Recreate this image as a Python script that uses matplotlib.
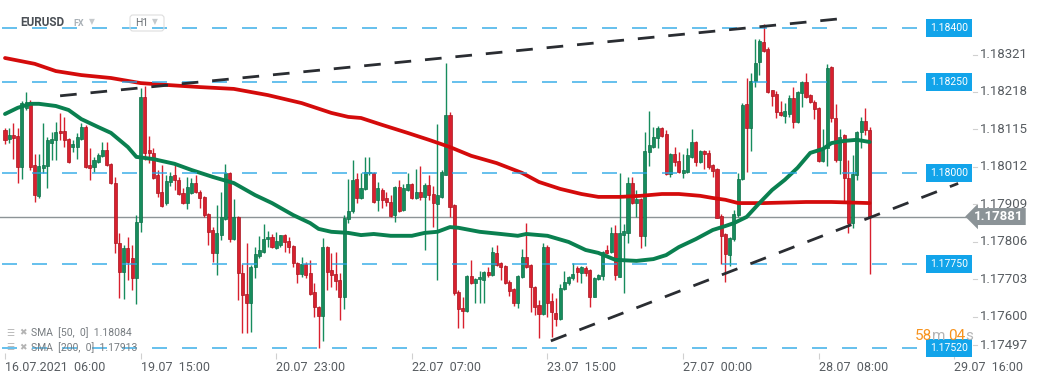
import matplotlib
matplotlib.use("Agg")
import matplotlib.pyplot as plt
import matplotlib.transforms as mtransforms
from matplotlib.lines import Line2D
from matplotlib.patches import FancyBboxPatch
import numpy as np

plt.rcParams['font.family'] = ['Roboto', 'DejaVu Sans']
plt.rcParams['lines.scale_dashes'] = False

# ---- EURUSD H1 candles (16.07 06:00 -> 28.07) ----
opens = [
    1.18119, 1.18094, 1.18105, 1.18103, 1.18017, 1.18180, 1.18196, 1.18023, 1.17938, 1.18015,
    1.18020, 1.18083, 1.18092, 1.18116, 1.18116, 1.18094, 1.18072, 1.18072, 1.18094, 1.18127,
    1.18023, 1.18017, 1.18031, 1.18048, 1.18064, 1.18026, 1.17973, 1.17808, 1.17728, 1.17794,
    1.17767, 1.17712, 1.17866, 1.18210, 1.18064, 1.18056, 1.17995, 1.17948, 1.17918, 1.17976,
    1.17995, 1.17982, 1.17946, 1.17918, 1.17946, 1.17973, 1.17948, 1.17935, 1.17888, 1.17844,
    1.17781, 1.17830, 1.17874, 1.18001, 1.17819, 1.17880, 1.17726, 1.17668, 1.17643, 1.17742,
    1.17772, 1.17784, 1.17819, 1.17825, 1.17794, 1.17803, 1.17830, 1.17814, 1.17800, 1.17753,
    1.17723, 1.17750, 1.17726, 1.17674, 1.17632, 1.17608, 1.17797, 1.17734, 1.17723, 1.17706,
    1.17660, 1.17874, 1.17896, 1.17984, 1.17932, 1.17957, 1.18001, 1.18001, 1.17927, 1.17954,
    1.17932, 1.17921, 1.17885, 1.17962, 1.17899, 1.17954, 1.17971, 1.17932, 1.17948, 1.17935,
    1.17968, 1.17943, 1.17915, 1.17935, 1.17995, 1.18160, 1.17913, 1.17674, 1.17630, 1.17621,
    1.17718, 1.17698, 1.17709, 1.17706, 1.17728, 1.17720, 1.17781, 1.17753, 1.17745, 1.17701,
    1.17682, 1.17643, 1.17715, 1.17770, 1.17748, 1.17687, 1.17638, 1.17613, 1.17797, 1.17649,
    1.17616, 1.17599, 1.17682, 1.17698, 1.17712, 1.17740, 1.17726, 1.17740, 1.17734, 1.17660,
    1.17709, 1.17718, 1.17789, 1.17784, 1.17836, 1.17715, 1.17830, 1.17836, 1.17973, 1.17918,
    1.17929, 1.17828, 1.18058, 1.18072, 1.18097, 1.18124, 1.18108, 1.17998, 1.18053, 1.18034,
    1.18001, 1.18004, 1.18045, 1.18086, 1.18031, 1.18061, 1.18056, 1.18023, 1.18012, 1.17882,
    1.17833, 1.17775, 1.17819, 1.17885, 1.17984, 1.18191, 1.18124, 1.18254, 1.18306, 1.18361,
    1.18342, 1.18229, 1.18218, 1.18168, 1.18157, 1.18163, 1.18207, 1.18141, 1.18221, 1.18251,
    1.18215, 1.18196, 1.18180, 1.18034, 1.18070, 1.18292, 1.18152, 1.18037, 1.18105, 1.17987,
    1.17863, 1.17995, 1.18114, 1.18144, 1.18119,
]
highs = [
    1.18124, 1.18124, 1.18138, 1.18124, 1.18199, 1.18224, 1.18202, 1.18053, 1.18053, 1.18138,
    1.18100, 1.18114, 1.18141, 1.18166, 1.18155, 1.18097, 1.18092, 1.18111, 1.18138, 1.18133,
    1.18070, 1.18045, 1.18056, 1.18086, 1.18086, 1.18028, 1.17990, 1.17836, 1.17803, 1.17825,
    1.17803, 1.17885, 1.18234, 1.18240, 1.18103, 1.18070, 1.18009, 1.18023, 1.17995, 1.18004,
    1.18023, 1.17990, 1.17960, 1.17990, 1.17987, 1.17995, 1.17954, 1.17938, 1.17891, 1.17852,
    1.17913, 1.17948, 1.18026, 1.18004, 1.17929, 1.17882, 1.17750, 1.17808, 1.17748, 1.17797,
    1.17828, 1.17860, 1.17841, 1.17833, 1.17838, 1.17830, 1.17833, 1.17825, 1.17803, 1.17756,
    1.17770, 1.17756, 1.17762, 1.17698, 1.17635, 1.17822, 1.17800, 1.17781, 1.17784, 1.17726,
    1.17885, 1.17984, 1.18037, 1.18001, 1.18001, 1.18045, 1.18045, 1.18004, 1.17976, 1.17960,
    1.17948, 1.17940, 1.17965, 1.17982, 1.17971, 1.18001, 1.17973, 1.18012, 1.18020, 1.17973,
    1.17995, 1.17965, 1.18135, 1.18009, 1.18303, 1.18168, 1.17915, 1.17679, 1.17660, 1.17720,
    1.17762, 1.17712, 1.17731, 1.17731, 1.17742, 1.17797, 1.17803, 1.17756, 1.17748, 1.17706,
    1.17684, 1.17720, 1.17792, 1.17863, 1.17750, 1.17690, 1.17652, 1.17808, 1.17803, 1.17671,
    1.17657, 1.17696, 1.17731, 1.17718, 1.17753, 1.17745, 1.17745, 1.17745, 1.17737, 1.17715,
    1.17723, 1.17786, 1.17803, 1.17852, 1.17858, 1.18001, 1.17860, 1.17990, 1.17990, 1.17954,
    1.17932, 1.18114, 1.18171, 1.18127, 1.18130, 1.18126, 1.18119, 1.18056, 1.18072, 1.18058,
    1.18053, 1.18070, 1.18122, 1.18089, 1.18064, 1.18064, 1.18064, 1.18026, 1.18015, 1.17888,
    1.17836, 1.17825, 1.17899, 1.18001, 1.18193, 1.18262, 1.18276, 1.18369, 1.18369, 1.18410,
    1.18347, 1.18230, 1.18226, 1.18199, 1.18193, 1.18215, 1.18237, 1.18226, 1.18254, 1.18276,
    1.18218, 1.18202, 1.18182, 1.18122, 1.18300, 1.18295, 1.18190, 1.18122, 1.18108, 1.18037,
    1.18050, 1.18115, 1.18155, 1.18180, 1.18127,
]
lows = [
    1.18080, 1.18083, 1.18039, 1.17973, 1.17984, 1.18174, 1.18009, 1.17921, 1.17932, 1.18001,
    1.17960, 1.18037, 1.18037, 1.18092, 1.18072, 1.18028, 1.18058, 1.18039, 1.18092, 1.18015,
    1.17982, 1.18004, 1.18028, 1.18045, 1.18020, 1.17971, 1.17781, 1.17657, 1.17654, 1.17706,
    1.17679, 1.17640, 1.17838, 1.18037, 1.18028, 1.17984, 1.17935, 1.17907, 1.17913, 1.17965,
    1.17954, 1.17940, 1.17915, 1.17902, 1.17944, 1.17946, 1.17904, 1.17880, 1.17803, 1.17756,
    1.17720, 1.17816, 1.17871, 1.17811, 1.17816, 1.17652, 1.17561, 1.17561, 1.17564, 1.17712,
    1.17767, 1.17781, 1.17797, 1.17794, 1.17792, 1.17797, 1.17784, 1.17781, 1.17742, 1.17698,
    1.17715, 1.17712, 1.17665, 1.17605, 1.17520, 1.17539, 1.17679, 1.17687, 1.17679, 1.17596,
    1.17627, 1.17863, 1.17891, 1.17918, 1.17929, 1.17954, 1.17995, 1.17918, 1.17896, 1.17904,
    1.17910, 1.17880, 1.17866, 1.17893, 1.17896, 1.17951, 1.17929, 1.17929, 1.17927, 1.17789,
    1.17927, 1.17852, 1.17706, 1.17932, 1.17995, 1.17880, 1.17665, 1.17574, 1.17574, 1.17618,
    1.17696, 1.17643, 1.17643, 1.17643, 1.17715, 1.17718, 1.17745, 1.17706, 1.17696, 1.17662,
    1.17635, 1.17630, 1.17712, 1.17740, 1.17618, 1.17610, 1.17547, 1.17610, 1.17605, 1.17550,
    1.17580, 1.17596, 1.17679, 1.17693, 1.17706, 1.17701, 1.17698, 1.17718, 1.17632, 1.17659,
    1.17706, 1.17706, 1.17778, 1.17781, 1.17706, 1.17715, 1.17671, 1.17808, 1.17915, 1.17880,
    1.17794, 1.17800, 1.18020, 1.18070, 1.18070, 1.18101, 1.17995, 1.17990, 1.18020, 1.18002,
    1.17987, 1.18002, 1.18042, 1.18020, 1.18028, 1.18012, 1.18012, 1.17990, 1.17876, 1.17750,
    1.17701, 1.17745, 1.17814, 1.17880, 1.17982, 1.18004, 1.18061, 1.18237, 1.18270, 1.18334,
    1.18222, 1.18185, 1.18152, 1.18157, 1.18138, 1.18155, 1.18124, 1.18138, 1.18182, 1.18207,
    1.18193, 1.18149, 1.18031, 1.18031, 1.18020, 1.18141, 1.18031, 1.17998, 1.17918, 1.17836,
    1.17850, 1.17982, 1.18070, 1.18105, 1.17723,
]
closes = [
    1.18092, 1.18105, 1.18097, 1.18017, 1.18193, 1.18196, 1.18017, 1.17940, 1.18020, 1.18023,
    1.18092, 1.18094, 1.18114, 1.18111, 1.18092, 1.18031, 1.18080, 1.18100, 1.18127, 1.18017,
    1.18015, 1.18037, 1.18050, 1.18064, 1.18023, 1.17973, 1.17808, 1.17728, 1.17794, 1.17756,
    1.17712, 1.17866, 1.18210, 1.18056, 1.18056, 1.17987, 1.17946, 1.17910, 1.17979, 1.17992,
    1.17982, 1.17943, 1.17918, 1.17962, 1.17973, 1.17948, 1.17932, 1.17885, 1.17838, 1.17781,
    1.17836, 1.17880, 1.18001, 1.17819, 1.17880, 1.17726, 1.17665, 1.17643, 1.17742, 1.17778,
    1.17789, 1.17819, 1.17825, 1.17797, 1.17814, 1.17830, 1.17811, 1.17797, 1.17753, 1.17723,
    1.17750, 1.17720, 1.17668, 1.17632, 1.17608, 1.17797, 1.17728, 1.17720, 1.17704, 1.17660,
    1.17877, 1.17896, 1.17982, 1.17932, 1.17960, 1.18004, 1.18004, 1.17921, 1.17960, 1.17927,
    1.17921, 1.17882, 1.17962, 1.17896, 1.17960, 1.17971, 1.17932, 1.17948, 1.17935, 1.17968,
    1.17940, 1.17918, 1.17940, 1.18004, 1.18160, 1.17907, 1.17671, 1.17627, 1.17621, 1.17718,
    1.17698, 1.17709, 1.17715, 1.17728, 1.17720, 1.17784, 1.17748, 1.17742, 1.17698, 1.17676,
    1.17643, 1.17718, 1.17770, 1.17742, 1.17687, 1.17632, 1.17613, 1.17797, 1.17643, 1.17618,
    1.17599, 1.17684, 1.17701, 1.17715, 1.17723, 1.17728, 1.17742, 1.17726, 1.17660, 1.17712,
    1.17720, 1.17784, 1.17781, 1.17836, 1.17720, 1.17836, 1.17841, 1.17973, 1.17918, 1.17929,
    1.17828, 1.18061, 1.18078, 1.18100, 1.18124, 1.18103, 1.17998, 1.18053, 1.18031, 1.18004,
    1.18009, 1.18050, 1.18086, 1.18031, 1.18061, 1.18053, 1.18017, 1.18006, 1.17877, 1.17828,
    1.17778, 1.17822, 1.17888, 1.17984, 1.18188, 1.18124, 1.18254, 1.18303, 1.18364, 1.18336,
    1.18224, 1.18212, 1.18168, 1.18160, 1.18171, 1.18207, 1.18141, 1.18224, 1.18251, 1.18210,
    1.18196, 1.18177, 1.18034, 1.18070, 1.18290, 1.18152, 1.18037, 1.18100, 1.17987, 1.17863,
    1.17998, 1.18114, 1.18144, 1.18119, 1.17881,
]

# moving averages (candle index, price)
sma50_idx = [0, 3, 6, 8, 12, 15, 18, 22, 25, 29, 31, 35, 40, 44, 49, 54, 59, 63, 68, 72,
             74, 77, 81, 84, 87, 91, 96, 99, 102, 105, 107, 112, 117, 121, 123, 128, 133, 137, 140, 144,
             149, 153, 156, 159, 163, 167, 170, 172, 175, 178, 181, 184, 187, 190, 193, 195, 198, 201, 204]
sma50_val = [1.18163, 1.18180, 1.18191, 1.18191, 1.18185, 1.18174, 1.18149, 1.18127, 1.18111, 1.18072,
             1.18045, 1.18039, 1.18026, 1.18009, 1.17990, 1.17973, 1.17940, 1.17918, 1.17885, 1.17863,
             1.17847, 1.17839, 1.17836, 1.17830, 1.17833, 1.17828, 1.17828, 1.17836, 1.17839, 1.17852,
             1.17850, 1.17839, 1.17833, 1.17828, 1.17833, 1.17828, 1.17811, 1.17789, 1.17781, 1.17762,
             1.17759, 1.17764, 1.17775, 1.17797, 1.17819, 1.17844, 1.17855, 1.17863, 1.17880, 1.17918,
             1.17954, 1.17982, 1.18015, 1.18056, 1.18067, 1.18083, 1.18089, 1.18092, 1.18086]
sma200_idx = [0, 7, 12, 18, 25, 32, 38, 46, 54, 62, 70, 77, 81, 84, 89, 95, 100, 105, 110, 116,
              122, 126, 131, 136, 140, 145, 150, 155, 159, 164, 167, 170, 173, 179, 189, 195, 204]
sma200_val = [1.18317, 1.18301, 1.18281, 1.18270, 1.18262, 1.18248, 1.18243, 1.18237, 1.18232, 1.18215,
              1.18193, 1.18166, 1.18155, 1.18152, 1.18133, 1.18111, 1.18092, 1.18072, 1.18048, 1.18028,
              1.18001, 1.17976, 1.17957, 1.17943, 1.17935, 1.17935, 1.17938, 1.17943, 1.17943, 1.17938,
              1.17932, 1.17927, 1.17918, 1.17918, 1.17921, 1.17921, 1.17918]

# drawn trend lines (candle index, price)
upper_trend_idx = [13.0, 198.0]
upper_trend_px = [1.18213, 1.18426]
lower_trend_idx = [128.8, 224.9]
lower_trend_px = [1.17539, 1.17972]

levels = [1.18400, 1.18250, 1.18000, 1.17750, 1.17520]
price_ticks = [1.18321, 1.18218, 1.18115, 1.18012, 1.17909, 1.17806, 1.17703, 1.17600, 1.17497]
time_tick_idx = [0, 32, 64, 96, 128, 160, 192, 224]
time_labels = ["16.07.2021  06:00", "19.07  15:00", "20.07  23:00", "22.07  07:00",
               "23.07  15:00", "27.07  00:00", "28.07  08:00", "29.07  16:00"]

W, H = 1041, 380
fig = plt.figure(figsize=(W / 100, H / 100), dpi=100)
fig.patch.set_facecolor('white')
ax = fig.add_axes([0, 27 / H, 973 / W, 353 / H])
ax.set_xlim(-1.18, 228.4)
ax.set_ylim(1.175057, 1.184765)
for s in ax.spines.values():
    s.set_visible(False)
ax.set_yticks([])

o = np.array(opens)
h = np.array(highs)
l = np.array(lows)
c = np.array(closes)
idx = np.arange(len(o))
up = c >= o
green, red = '#178c5d', '#d8202e'
cols = np.where(up, green, red)
edges = np.where(up, '#0e6f47', '#a8141f')

ax.vlines(idx, l, h, colors=cols, lw=1, zorder=2)
body_lo = np.minimum(o, c)
body_h = np.maximum(np.abs(c - o), 0.00003)
ax.bar(idx, body_h, bottom=body_lo, width=0.72, color=cols, edgecolor=edges, lw=0.5, zorder=3)

# moving averages
ax.plot(sma200_idx, sma200_val, color='#d40b0b', lw=2.7, zorder=4,
        solid_capstyle='round', solid_joinstyle='round')
ax.plot(sma50_idx, sma50_val, color='#0a8050', lw=2.8, zorder=4,
        solid_capstyle='round', solid_joinstyle='round')

# last price line
ax.axhline(closes[-1], color='#8d9497', lw=1, zorder=1)

# horizontal levels
ax.hlines(levels, -0.71, 215.2, colors='#27a6e5', lw=1.1,
          linestyles=[(0, (10.8, 10.8))], zorder=5, alpha=0.9)

# trend lines
ax.plot(upper_trend_idx, upper_trend_px, color='#2a2d32', lw=2.0,
        ls=(0, (12, 10)), zorder=6, dash_capstyle='butt')
ax.plot(lower_trend_idx, lower_trend_px, color='#2a2d32', lw=2.0,
        ls=(0, (12, 10)), zorder=6, dash_capstyle='butt', clip_on=False)

trans = mtransforms.blended_transform_factory(fig.transFigure, ax.transData)
trans_up = mtransforms.offset_copy(trans, fig=fig, x=0, y=2, units='dots')
ylo = ax.get_ylim()[0]

# level labels
for lv in levels:
    ax.text(949 / W, lv, f"{lv:.5f}", transform=trans, ha='center', va='center',
            color='white', fontsize=7.5, zorder=8, clip_on=False,
            bbox=dict(boxstyle='square,pad=0.38', fc='#12a4ea', ec='none'))

# price axis
for v in price_ticks:
    yv = max(v, ylo + 0.00016)
    ax.text(980 / W, yv, f"{v:.5f}", transform=trans_up, ha='left', va='center',
            color='#575c61', fontsize=9.5, zorder=7, clip_on=False)
    fig.add_artist(Line2D([973 / W, 977 / W], [yv, yv], transform=trans_up,
                          color='#d0d0d0', lw=0.8))

ax.text(999 / W, closes[-1], f"{closes[-1]:.5f}", transform=trans, ha='center', va='center',
        color='white', fontsize=9.5, fontweight='bold', zorder=9, clip_on=False,
        bbox=dict(boxstyle='larrow,pad=0.15', fc='#8b9397', ec='none'))

# time axis
ax.set_xticks(time_tick_idx)
ax.set_xticklabels(time_labels, ha='left', fontsize=9, color='#575c61')
ax.tick_params(axis='x', length=4, color='#d0d0d0', pad=2, width=0.8)

# header
fig.text(20 / W, 1 - 23 / H, "EURUSD", fontsize=8.5, fontweight='bold', color='#4a4f55',
         ha='left', va='center')
fig.text(73 / W, 1 - 23 / H, "FX", fontsize=6.5, fontweight='bold', color='#a9b0b6',
         ha='left', va='center')
fig.text(89 / W, 1 - 22 / H, "▼", fontsize=5.5, color='#c5c9cc', ha='left', va='center')
fig.add_artist(FancyBboxPatch((1.30, 3.49), 0.34, 0.16, boxstyle='round,pad=0,rounding_size=0.03',
                              transform=fig.dpi_scale_trans, fc='none', ec='#dedede', lw=0.8))
fig.text(135 / W, 1 - 23 / H, "H1", fontsize=7.5, color='#6b7075', ha='left', va='center')
fig.text(152 / W, 1 - 22 / H, "▼", fontsize=5.5, color='#c5c9cc', ha='left', va='center')

# indicator legend
for yy, txt in [(333, "SMA  [50,  0]  1.18084"), (348, "SMA  [200,  0]  1.17913")]:
    fig.text(6 / W, 1 - yy / H, "☰", fontsize=6.5, color='#b4b4b4', family='DejaVu Sans',
             ha='left', va='center')
    fig.text(19 / W, 1 - yy / H, "✖", fontsize=6.5, color='#b4b4b4', family='DejaVu Sans',
             ha='left', va='center')
    fig.text(31 / W, 1 - yy / H, txt, fontsize=7.5, color='#777c80', ha='left', va='center')

# candle countdown
for xx, txt, col in [(915, "58", '#f7931e'), (932, "m", '#b5b5b5'),
                     (948, "04", '#f7931e'), (965, "s", '#b5b5b5')]:
    fig.text(xx / W, 1 - 336 / H, txt, fontsize=11, color=col, ha='left', va='center')

fig.savefig("out.png", dpi=100, facecolor='white')
